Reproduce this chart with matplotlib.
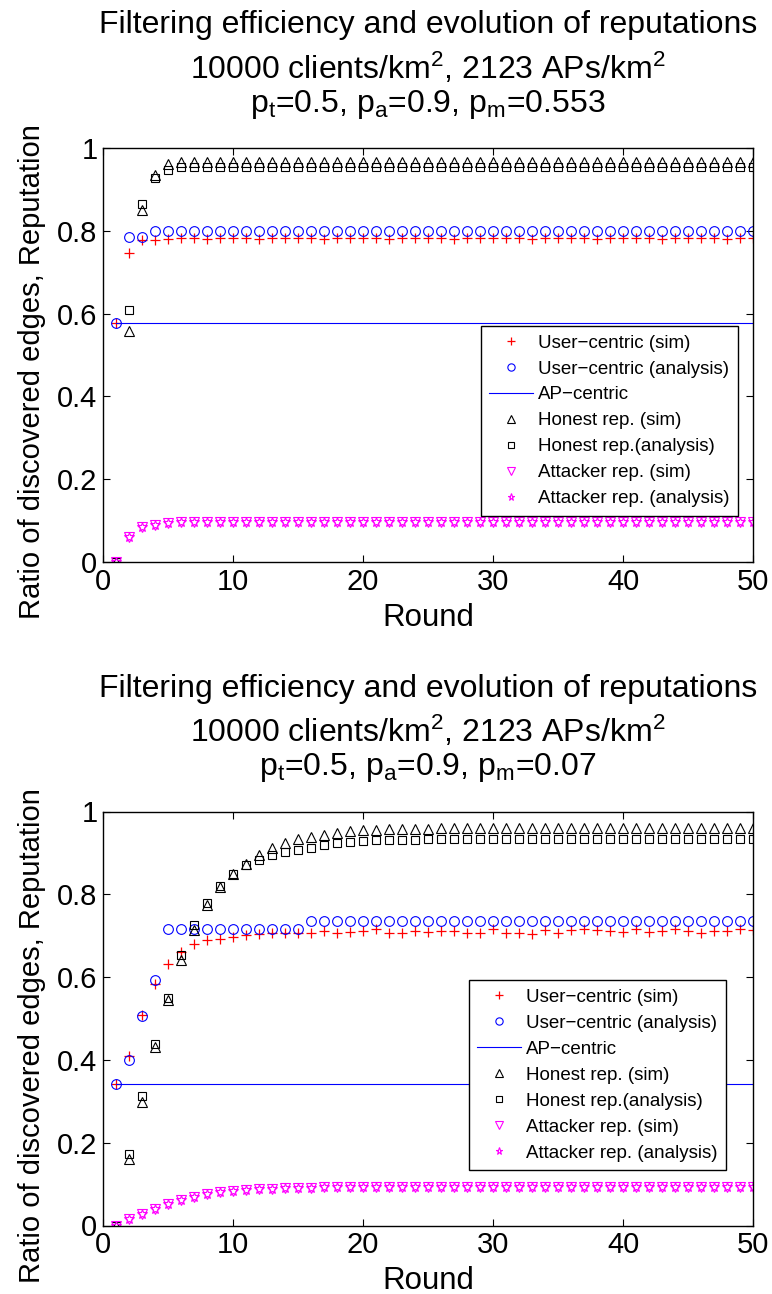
import numpy as np
import matplotlib
matplotlib.use("Agg")
import matplotlib.pyplot as plt

plt.rcParams['font.family'] = ['Liberation Sans', 'DejaVu Sans']
plt.rcParams['mathtext.fontset'] = 'custom'
plt.rcParams['mathtext.rm'] = 'Liberation Sans'
plt.rcParams['mathtext.it'] = 'Liberation Sans'
plt.rcParams['mathtext.default'] = 'regular'

rounds = np.arange(1, 51)

# --- top panel (p_m = 0.553) ---
top_user_sim = [0.578, 0.747, 0.778, 0.778, 0.780, 0.782, 0.782, 0.781, 0.782, 0.783,
                0.782, 0.781, 0.782, 0.782, 0.783, 0.782, 0.781, 0.782, 0.783, 0.782,
                0.782, 0.781, 0.782, 0.783, 0.782, 0.782, 0.781, 0.782, 0.782, 0.783,
                0.782, 0.782, 0.781, 0.782, 0.783, 0.782, 0.782, 0.781, 0.782, 0.782,
                0.783, 0.782, 0.781, 0.782, 0.782, 0.783, 0.782, 0.781, 0.782, 0.783]
top_user_ana = [0.578, 0.784, 0.786] + [0.799] * 47
top_ap = [0.578] * 50
top_honest_sim = [0.0, 0.559, 0.850, 0.935, 0.961] + [0.967] * 45
top_honest_ana = [0.0, 0.609, 0.865, 0.927, 0.947] + [0.955] * 45
top_att_sim = [0.0, 0.060, 0.084, 0.089, 0.094, 0.0965] + [0.097] * 44
top_att_ana = [0.0, 0.060, 0.084, 0.089, 0.094, 0.0965] + [0.097] * 44

# --- bottom panel (p_m = 0.07) ---
bot_user_sim = [0.341, 0.409, 0.508, 0.583, 0.631, 0.661, 0.679, 0.689, 0.693, 0.697,
                0.701, 0.705, 0.707, 0.707, 0.707, 0.7075, 0.711, 0.7075, 0.709, 0.711,
                0.715, 0.7075, 0.7075, 0.711, 0.709, 0.711, 0.711, 0.7075, 0.7075, 0.715,
                0.7075, 0.7075, 0.705, 0.713, 0.7075, 0.713, 0.715, 0.713, 0.711, 0.709,
                0.716, 0.709, 0.711, 0.715, 0.711, 0.7075, 0.711, 0.711, 0.715, 0.713]
bot_user_ana = [0.341, 0.400, 0.506, 0.594] + [0.716] * 11 + [0.736] * 35
bot_ap = [0.341] * 50
bot_honest_sim = [0.0, 0.161, 0.298, 0.431, 0.544, 0.641, 0.713, 0.774, 0.818, 0.850,
                  0.874, 0.894, 0.911, 0.924, 0.933, 0.939, 0.944, 0.949, 0.952, 0.955,
                  0.956, 0.957, 0.957, 0.958, 0.958] + [0.959] * 25
bot_honest_ana = [0.0, 0.172, 0.312, 0.439, 0.550, 0.653, 0.725, 0.778, 0.820, 0.849,
                  0.870, 0.884, 0.894, 0.902, 0.908, 0.912, 0.919, 0.923, 0.927, 0.929,
                  0.931, 0.931, 0.932, 0.932] + [0.933] * 26
bot_att_sim = [0.0, 0.016, 0.028, 0.041, 0.052, 0.062, 0.070, 0.077, 0.080, 0.084,
               0.086, 0.088, 0.089, 0.090, 0.091, 0.091, 0.092, 0.092, 0.093, 0.093] + [0.094] * 30
bot_att_ana = list(bot_att_sim)

labels = ['User\u2212centric (sim)', 'User\u2212centric (analysis)', 'AP\u2212centric',
          'Honest rep. (sim)', 'Honest rep.(analysis)', 'Attacker rep. (sim)',
          'Attacker rep. (analysis)']

title_lines = ['Filtering efficiency and evolution of reputations',
               '10000 clients/km$^2$, 2123 APs/km$^2$',
               'p$_t$=0.5, p$_a$=0.9, p$_m$=']

W, H = 772, 1294
panels = [
    ('0.553', top_user_sim, top_user_ana, top_ap, top_honest_sim, top_honest_ana,
     top_att_sim, top_att_ana, 562.0, (0.5815, 0.570)),
    ('0.07', bot_user_sim, bot_user_ana, bot_ap, bot_honest_sim, bot_honest_ana,
     bot_att_sim, bot_att_ana, 1225.5, (0.563, 0.592)),
]

fig = plt.figure(figsize=(W / 100, H / 100), dpi=100)

for pm, us, ua, ap, hs, ha, as_, aa, ybot, leg in panels:
    ax_h = 414.0
    ax = fig.add_axes([103 / W, 1 - ybot / H, 650 / W, ax_h / H])
    ms = 7
    ax.plot(rounds, us, '+', color='red', ms=ms, mew=0.9, label=labels[0])
    ax.plot(rounds, ua, 'o', color='blue', mfc='none', ms=ms, mew=0.8, label=labels[1])
    ax.plot(rounds, ap, '-', color='blue', lw=0.8, label=labels[2])
    ax.plot(rounds, hs, '^', color='black', mfc='none', ms=ms, mew=0.8, label=labels[3])
    ax.plot(rounds, ha, 's', color='black', mfc='none', ms=6, mew=0.8, label=labels[4])
    ax.plot(rounds, as_, 'v', color='magenta', mfc='none', ms=ms, mew=0.8, label=labels[5])
    ax.plot(rounds, aa, '*', color='magenta', mfc='none', ms=ms, mew=0.8, label=labels[6])

    ax.set_xlim(0, 50)
    ax.set_ylim(0, 1)
    ax.set_xticks([0, 10, 20, 30, 40, 50])
    ax.set_yticks([0, 0.2, 0.4, 0.6, 0.8, 1])
    ax.set_yticklabels(['0', '0.2', '0.4', '0.6', '0.8', '1'])
    ax.tick_params(direction='in', top=True, right=True, length=5, width=0.8,
                   labelsize=21, pad=4)
    for s in ax.spines.values():
        s.set_linewidth(1.0)

    ax.set_xlabel('Round', fontsize=22.5, labelpad=5)
    ax.set_ylabel('Ratio of discovered edges, Reputation', fontsize=21)
    ax.yaxis.set_label_coords(-0.0877, 0.459)

    # three title lines, baselines measured from the axes top
    ytop = ybot - ax_h
    for line, off in zip(title_lines[:2] + [title_lines[2] + pm], [115.0, 69.0, 36.3]):
        fig.text(428 / W, 1 - (ytop - off) / H, line, fontsize=23,
                 ha='center', va='baseline')

    lg = ax.legend(loc='upper left', bbox_to_anchor=leg,
                   fontsize=13.5, frameon=True, fancybox=False, framealpha=1,
                   edgecolor='black', handlelength=2.3, labelspacing=0.47,
                   borderpad=0.45, handletextpad=0.3, borderaxespad=0,
                   markerscale=0.75)
    lg.get_frame().set_linewidth(1.0)

fig.savefig('out.png', dpi=100)
